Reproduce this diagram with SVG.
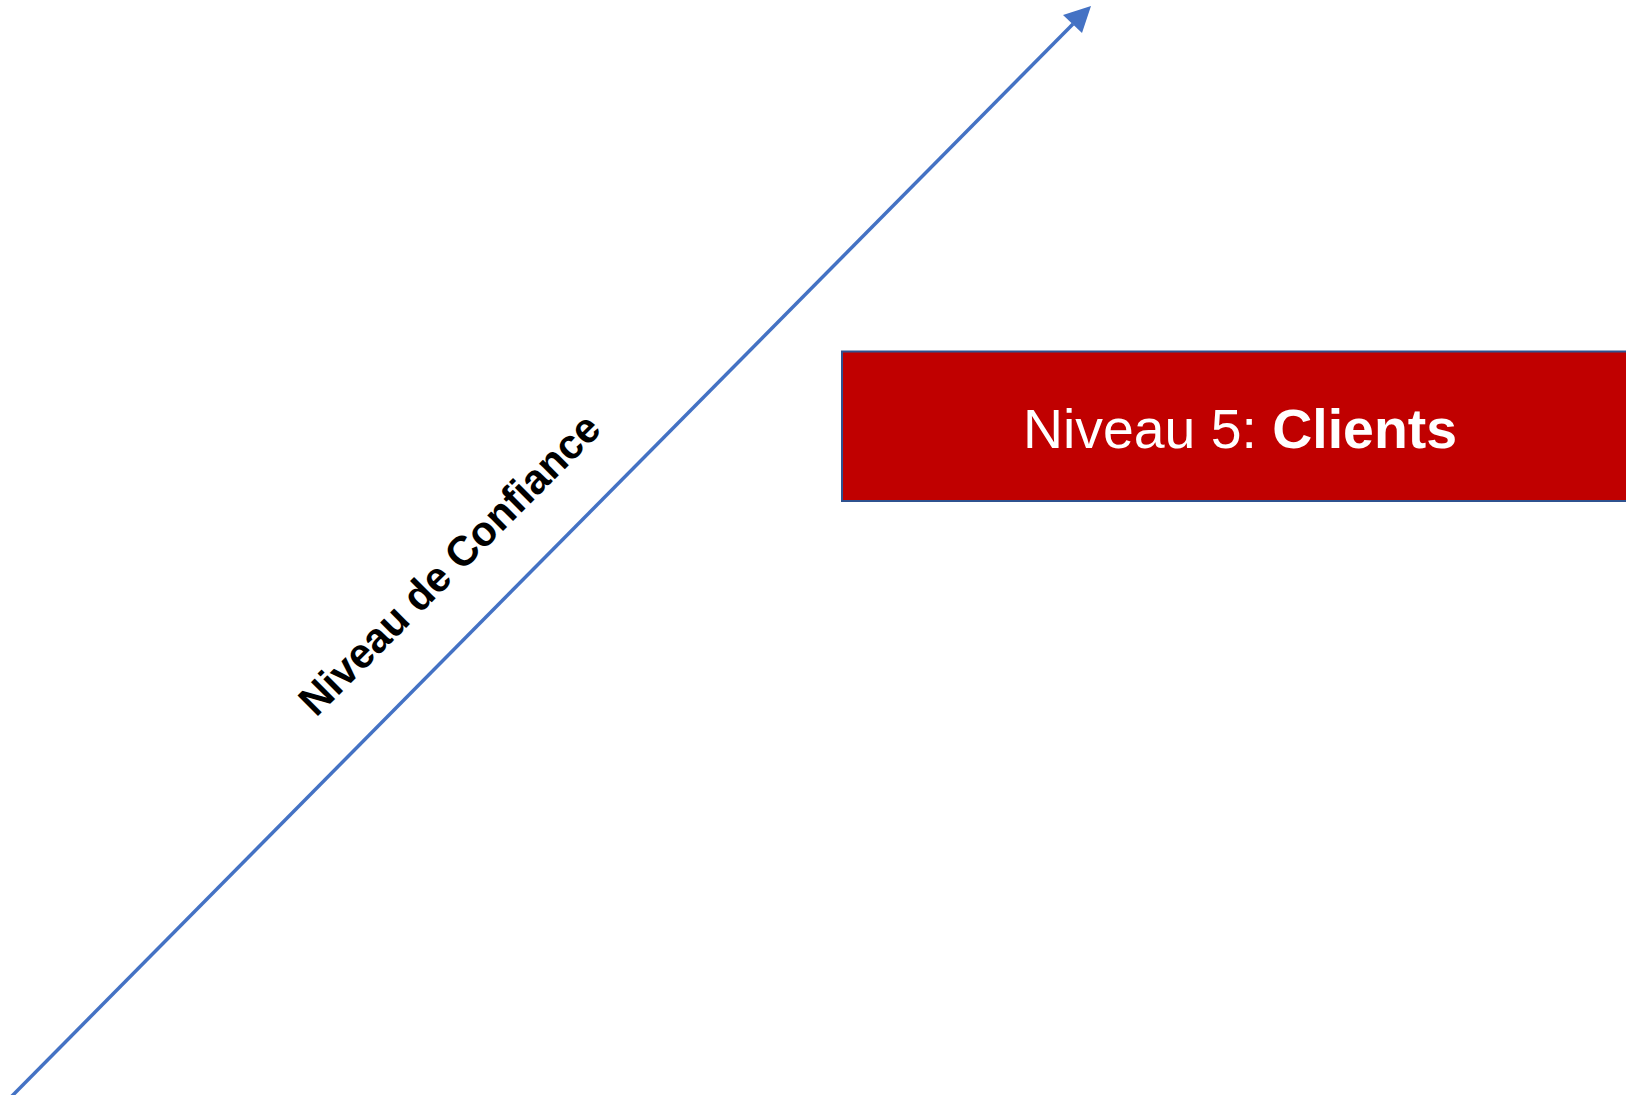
<svg xmlns="http://www.w3.org/2000/svg" width="1626" height="1095" viewBox="0 0 1626 1095">
<style>
.axis{stroke:#4472C4;stroke-width:3.5;fill:none}
.head{fill:#4472C4}
.box{fill:#C00000;stroke:#2F528F;stroke-width:2}
.lbl{font-family:"Liberation Sans",Arial,sans-serif;font-size:56px;fill:#FFFFFF}
.axlbl{font-family:"Liberation Sans",Arial,sans-serif;font-size:42px;font-weight:bold;fill:#000000}
</style>
<rect width="1626" height="1095" fill="#FFFFFF"/>
<g id="connectors">
<line class="axis" x1="11" y1="1097" x2="1073" y2="24"/>
<polygon class="head" points="1091,6 1063,15 1082,33"/>
</g>
<g id="axis-label">
<text class="axlbl" x="316" y="718" transform="rotate(-45 316 718)" textLength="406" lengthAdjust="spacingAndGlyphs">Niveau de Confiance</text>
</g>
<g id="node-niveau5">
<rect class="box" x="842" y="351.5" width="800" height="149.5"/>
<text class="lbl" x="1023" y="448" textLength="434" lengthAdjust="spacingAndGlyphs">Niveau 5: <tspan font-weight="bold">Clients</tspan></text>
</g>
</svg>
